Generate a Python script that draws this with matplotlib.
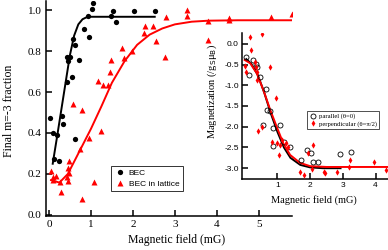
import matplotlib
matplotlib.use("Agg")
import matplotlib.pyplot as plt

# Main panel: final m=-3 fraction vs field
bec_x = [1.05, 1.03, 1.53, 2.03, 2.52, 0.92, 1.47, 1.60, 0.84, 0.96, 0.58, 0.63,
         0.42, 0.50, 0.46, 0.71, 0.54, 0.44, 0.02, 0.31, 0.33, 0.10, 0.20, 0.61,
         0.12, 0.24]
bec_y = [1.035, 1.003, 0.995, 0.995, 0.995, 0.97, 0.97, 0.94, 0.908, 0.87, 0.86, 0.827,
         0.773, 0.773, 0.749, 0.754, 0.671, 0.647, 0.474, 0.485, 0.442, 0.40, 0.39, 0.372,
         0.275, 0.265]

lat_x = [0.06, 0.10, 0.17, 0.09, 0.26, 0.28, 0.44, 0.46, 0.48, 0.46, 0.48, 0.74,
         0.78, 0.96, 1.08, 1.25, 0.58, 0.78, 1.16, 1.29, 1.40, 1.45, 1.49, 1.75,
         1.79, 1.97, 2.26, 2.29, 2.48, 2.56, 2.76, 2.78, 3.28, 3.28, 3.78, 3.79,
         4.28, 4.29, 5.29, 5.79]
lat_y = [0.215, 0.183, 0.19, 0.17, 0.16, 0.11, 0.183, 0.167, 0.207, 0.23, 0.265, 0.32,
         0.078, 0.377, 0.159, 0.41, 0.542, 0.51, 0.655, 0.636, 0.636, 0.696, 0.757, 0.817,
         0.766, 0.80, 0.89, 0.922, 0.922, 0.85, 0.77, 0.967, 0.97, 1.0, 0.854, 0.947,
         0.96, 0.95, 0.968, 0.98]

bec_fit_x = [0.09, 0.2, 0.3, 0.4, 0.5, 0.6, 0.7, 0.8, 0.9, 1.0, 2.52]
bec_fit_y = [0.25, 0.39, 0.52, 0.65, 0.78, 0.875, 0.93, 0.955, 0.965, 0.967, 0.967]

lat_fit_x = [0.05, 0.25, 0.45, 0.7, 1.0, 1.25, 1.5, 1.8, 2.1, 2.4, 2.7, 3.0, 3.4, 3.8, 4.5, 5.8]
lat_fit_y = [0.17, 0.158, 0.20, 0.30, 0.42, 0.53, 0.645, 0.75, 0.83, 0.88, 0.91, 0.93,
             0.943, 0.948, 0.95, 0.95]

# Inset: magnetization vs field
par_x = [0.03, 0.27, 0.35, 0.37, 0.14, 0.47, 0.65, 0.68, 0.76, 0.55, 0.88, 1.08,
         0.88, 1.21, 1.39, 1.72, 1.90, 2.02, 2.10, 2.24, 2.92, 3.25]
par_y = [-0.31, -0.40, -0.49, -0.55, -0.75, -0.80, -1.09, -1.59, -1.63, -1.96, -2.02, -1.96,
         -2.46, -2.37, -2.48, -2.79, -2.56, -2.64, -2.86, -2.86, -2.66, -2.60]

perp_x = [0.16, 0.54, 0.19, 0.01, 0.04, 0.31, 0.35, 0.37, 0.39, 0.78, 0.95, 0.40,
          0.52, 0.83, 0.98, 1.08, 1.06, 1.27, 1.31, 1.15, 1.95, 2.08, 1.68, 1.82,
          2.06, 2.43, 2.45, 2.82, 3.20, 3.22, 3.94, 4.33]
perp_y = [0.16, 0.24, -0.16, -0.53, -0.69, -0.43, -0.55, -0.67, -0.87, -0.55, -1.30, -2.10,
          -2.0, -2.36, -2.38, -2.44, -2.68, -2.38, -2.48, -2.32, -2.64, -2.44, -3.08, -3.16,
          -3.03, -3.08, -3.12, -3.08, -2.96, -2.80, -2.84, -3.04]

par_fit_x = [0.05, 0.2, 0.4, 0.6, 0.8, 1.0, 1.2, 1.4, 1.7, 2.0, 2.4, 2.93]
par_fit_y = [-0.37, -0.48, -0.75, -1.18, -1.68, -2.12, -2.50, -2.75, -2.92, -2.98, -3.0, -3.0]

perp_fit_x = [0.0, 0.17, 0.37, 0.57, 0.78, 0.98, 1.18, 1.39, 1.69, 2.0, 2.5, 3.0, 4.38]
perp_fit_y = [-0.39, -0.47, -0.71, -1.11, -1.59, -2.0, -2.40, -2.68, -2.87, -2.95, -2.97,
              -2.97, -2.97]

serif = "Liberation Serif"
sans = "Liberation Sans"

fig = plt.figure(figsize=(3.88, 2.5), dpi=100)

# main axes
ax = fig.add_axes([46 / 388, 34 / 250, 246 / 388, 215 / 250])
ax.plot(bec_fit_x, bec_fit_y, color="black", lw=1.4, zorder=2)
ax.plot(lat_fit_x, lat_fit_y, color="red", lw=1.4, zorder=2)
ax.plot(bec_x, bec_y, "o", color="black", ms=3.8, mec="none", label="BEC", zorder=3)
ax.plot(lat_x, lat_y, "^", color="red", ms=4.0, mec="none", label="BEC in lattice", zorder=3)
ax.set_xlim(-0.07, 5.79)
ax.set_ylim(-0.005, 1.044)
ax.set_xticks([0, 1, 2, 3, 4, 5])
ax.set_yticks([0.0, 0.2, 0.4, 0.6, 0.8, 1.0])
ax.set_yticklabels(["0.0", "0.2", "0.4", "0.6", "0.8", "1.0"])
for s in ["top", "right"]:
    ax.spines[s].set_visible(False)
for s in ["left", "bottom"]:
    ax.spines[s].set_linewidth(1.1)
ax.tick_params(direction="in", length=4, width=1.1, labelsize=8, pad=3)
for lab in ax.get_xticklabels() + ax.get_yticklabels():
    lab.set_fontfamily(serif)
ax.set_xlabel("Magnetic field (mG)", fontfamily=serif, fontsize=8.5)
ax.set_ylabel("Final m=-3 fraction", fontfamily=serif, fontsize=8.5)
ax.xaxis.set_label_coords(0.53, -0.083)
ax.yaxis.set_label_coords(-0.128, 0.49)
leg = ax.legend(loc="upper left", bbox_to_anchor=(107 / 388, 1 - 162 / 250),
                bbox_transform=fig.transFigure, prop={"family": sans, "size": 6},
                frameon=True, fancybox=False, handletextpad=0.4, handlelength=1.3,
                borderpad=0.4, labelspacing=0.3)
leg.get_frame().set_edgecolor("black")
leg.get_frame().set_linewidth(0.7)

# inset axes
ins = fig.add_axes([241.7 / 388, 71 / 250, 146.3 / 388, 146 / 250])
ins.set_facecolor("none")
ins.plot(par_fit_x, par_fit_y, color="black", lw=1.4, zorder=2)
ins.plot(perp_fit_x, perp_fit_y, color="red", lw=1.4, zorder=2)
ins.plot(par_x, par_y, "o", mfc="none", mec="black", mew=0.6, ms=3.6,
         label="parallel (\u03b8=0)", zorder=3)
ins.plot(perp_x, perp_y, "d", color="red", mec="none", ms=3.2,
         label="perpendicular (\u03b8=\u03c0/2)", zorder=3)
ins.set_xlim(-0.09, 4.38)
ins.set_ylim(-3.26, 0.26)
ins.set_xticks([1, 2, 3, 4])
ins.set_yticks([0.0, -0.5, -1.0, -1.5, -2.0, -2.5, -3.0])
ins.set_yticklabels(["0.0", "-0.5", "-1.0", "-1.5", "-2.0", "-2.5", "-3.0"])
for s in ["top", "right"]:
    ins.spines[s].set_visible(False)
for s in ["left", "bottom"]:
    ins.spines[s].set_linewidth(1.1)
ins.tick_params(direction="in", length=4, width=1.1, labelsize=6, pad=2)
for lab in ins.get_xticklabels() + ins.get_yticklabels():
    lab.set_fontfamily(sans)
ins.set_xlabel("Magnetic field (mG)", fontfamily=serif, fontsize=7.5)
ins.set_ylabel("Magnetization (/g$_\\mathrm{S}$\u03bc$_\\mathrm{B}$)", fontfamily=serif, fontsize=7.5)
ins.xaxis.set_label_coords(0.49, -0.11)
ins.yaxis.set_label_coords(-0.155, 0.6)
leg2 = ins.legend(loc="upper left", bbox_to_anchor=(304 / 388, 1 - 108 / 250),
                  bbox_transform=fig.transFigure, prop={"family": serif, "size": 4.8},
                  frameon=True, fancybox=False, handletextpad=0.4, handlelength=1.0,
                  borderpad=0.3, labelspacing=0.2)
leg2.get_frame().set_edgecolor("black")
leg2.get_frame().set_linewidth(0.6)

fig.savefig("out.png", dpi=100)
